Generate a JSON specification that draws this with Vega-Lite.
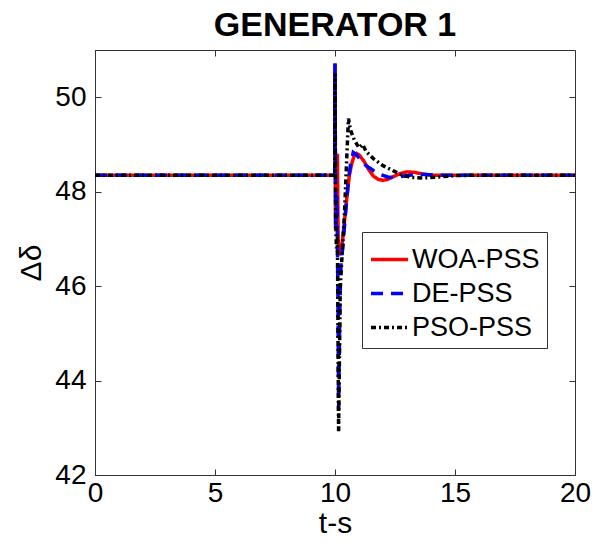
{
  "$schema": "https://vega.github.io/schema/vega-lite/v6.json",
  "width": 480,
  "height": 425,
  "autosize": {"type": "none"},
  "padding": {"left": 95, "top": 50, "right": 25, "bottom": 71},
  "background": "white",
  "title": {"text": "GENERATOR 1", "font": "Liberation Sans", "fontSize": 34, "fontWeight": "bold", "color": "#000000", "offset": 7, "anchor": "middle"},
  "config": {
    "view": {"stroke": "#333333", "strokeWidth": 1},
    "axis": {"grid": false, "labelFont": "Liberation Sans", "titleFont": "Liberation Sans", "labelFontSize": 28, "titleFontSize": 30, "labelColor": "#000000", "titleColor": "#000000", "domainColor": "#333333", "tickColor": "#333333", "titleFontWeight": "normal"}
  },
  "data": {"values": [
    {"s": "WOA-PSS", "t": 0, "v": 48.35}, {"s": "WOA-PSS", "t": 9.99, "v": 48.35}, {"s": "WOA-PSS", "t": 10.0, "v": 50.7}, {"s": "WOA-PSS", "t": 10.02, "v": 47.2}, {"s": "WOA-PSS", "t": 10.06, "v": 47.3}, {"s": "WOA-PSS", "t": 10.1, "v": 48.8}, {"s": "WOA-PSS", "t": 10.13, "v": 47.0}, {"s": "WOA-PSS", "t": 10.2, "v": 46.65}, {"s": "WOA-PSS", "t": 10.3, "v": 46.9}, {"s": "WOA-PSS", "t": 10.4, "v": 47.4}, {"s": "WOA-PSS", "t": 10.5, "v": 47.9}, {"s": "WOA-PSS", "t": 10.6, "v": 48.35}, {"s": "WOA-PSS", "t": 10.7, "v": 48.6}, {"s": "WOA-PSS", "t": 10.8, "v": 48.76}, {"s": "WOA-PSS", "t": 10.9, "v": 48.81}, {"s": "WOA-PSS", "t": 11.0, "v": 48.78}, {"s": "WOA-PSS", "t": 11.2, "v": 48.65}, {"s": "WOA-PSS", "t": 11.4, "v": 48.47}, {"s": "WOA-PSS", "t": 11.6, "v": 48.33}, {"s": "WOA-PSS", "t": 11.8, "v": 48.26}, {"s": "WOA-PSS", "t": 12.0, "v": 48.24}, {"s": "WOA-PSS", "t": 12.2, "v": 48.26}, {"s": "WOA-PSS", "t": 12.4, "v": 48.31}, {"s": "WOA-PSS", "t": 12.7, "v": 48.38}, {"s": "WOA-PSS", "t": 13.0, "v": 48.42}, {"s": "WOA-PSS", "t": 13.3, "v": 48.41}, {"s": "WOA-PSS", "t": 13.6, "v": 48.38}, {"s": "WOA-PSS", "t": 14.0, "v": 48.35}, {"s": "WOA-PSS", "t": 20, "v": 48.35},
    {"s": "DE-PSS", "t": 0, "v": 48.35}, {"s": "DE-PSS", "t": 9.99, "v": 48.35}, {"s": "DE-PSS", "t": 10.0, "v": 50.72}, {"s": "DE-PSS", "t": 10.03, "v": 47.2}, {"s": "DE-PSS", "t": 10.08, "v": 47.9}, {"s": "DE-PSS", "t": 10.12, "v": 46.0}, {"s": "DE-PSS", "t": 10.15, "v": 43.37}, {"s": "DE-PSS", "t": 10.2, "v": 45.5}, {"s": "DE-PSS", "t": 10.25, "v": 46.5}, {"s": "DE-PSS", "t": 10.32, "v": 46.8}, {"s": "DE-PSS", "t": 10.45, "v": 47.6}, {"s": "DE-PSS", "t": 10.55, "v": 48.2}, {"s": "DE-PSS", "t": 10.65, "v": 48.6}, {"s": "DE-PSS", "t": 10.76, "v": 48.83}, {"s": "DE-PSS", "t": 10.9, "v": 48.78}, {"s": "DE-PSS", "t": 11.1, "v": 48.65}, {"s": "DE-PSS", "t": 11.3, "v": 48.55}, {"s": "DE-PSS", "t": 11.6, "v": 48.45}, {"s": "DE-PSS", "t": 11.9, "v": 48.36}, {"s": "DE-PSS", "t": 12.2, "v": 48.31}, {"s": "DE-PSS", "t": 12.5, "v": 48.3}, {"s": "DE-PSS", "t": 12.9, "v": 48.33}, {"s": "DE-PSS", "t": 13.4, "v": 48.37}, {"s": "DE-PSS", "t": 13.9, "v": 48.36}, {"s": "DE-PSS", "t": 14.5, "v": 48.35}, {"s": "DE-PSS", "t": 20, "v": 48.35},
    {"s": "PSO-PSS", "t": 0, "v": 48.35}, {"s": "PSO-PSS", "t": 9.99, "v": 48.35}, {"s": "PSO-PSS", "t": 10.0, "v": 50.5}, {"s": "PSO-PSS", "t": 10.03, "v": 47.4}, {"s": "PSO-PSS", "t": 10.06, "v": 46.8}, {"s": "PSO-PSS", "t": 10.1, "v": 47.1}, {"s": "PSO-PSS", "t": 10.15, "v": 42.92}, {"s": "PSO-PSS", "t": 10.22, "v": 46.0}, {"s": "PSO-PSS", "t": 10.3, "v": 46.7}, {"s": "PSO-PSS", "t": 10.4, "v": 47.6}, {"s": "PSO-PSS", "t": 10.48, "v": 48.6}, {"s": "PSO-PSS", "t": 10.56, "v": 49.55}, {"s": "PSO-PSS", "t": 10.65, "v": 49.3}, {"s": "PSO-PSS", "t": 10.8, "v": 49.1}, {"s": "PSO-PSS", "t": 11.0, "v": 48.93}, {"s": "PSO-PSS", "t": 11.15, "v": 49.0}, {"s": "PSO-PSS", "t": 11.3, "v": 48.85}, {"s": "PSO-PSS", "t": 11.6, "v": 48.7}, {"s": "PSO-PSS", "t": 12.0, "v": 48.55}, {"s": "PSO-PSS", "t": 12.4, "v": 48.45}, {"s": "PSO-PSS", "t": 12.8, "v": 48.35}, {"s": "PSO-PSS", "t": 13.2, "v": 48.3}, {"s": "PSO-PSS", "t": 13.7, "v": 48.29}, {"s": "PSO-PSS", "t": 14.3, "v": 48.31}, {"s": "PSO-PSS", "t": 15, "v": 48.34}, {"s": "PSO-PSS", "t": 16, "v": 48.35}, {"s": "PSO-PSS", "t": 20, "v": 48.35}
  ]},
  "resolve": {"axis": {"x": "independent", "y": "independent"}},
  "layer": [
    {
      "mark": {"type": "line", "strokeCap": "butt", "strokeJoin": "miter", "interpolate": "linear"},
      "encoding": {
        "x": {"field": "t", "type": "quantitative", "scale": {"domain": [0, 20], "nice": false, "zero": false}, "axis": {"title": "t-s", "orient": "bottom", "values": [0, 5, 10, 15, 20], "tickSize": -6, "labelPadding": 10, "titlePadding": 1, "labelFlush": false}},
        "y": {"field": "v", "type": "quantitative", "scale": {"domain": [42, 51], "nice": false, "zero": false}, "axis": {"title": "Δδ", "orient": "left", "values": [42, 44, 46, 48, 50], "tickSize": -6, "labelPadding": 15, "titlePadding": 8}},
        "color": {"field": "s", "type": "nominal", "sort": ["WOA-PSS", "DE-PSS", "PSO-PSS"], "scale": {"domain": ["WOA-PSS", "DE-PSS", "PSO-PSS"], "range": ["#ff0000", "#0000ff", "#000000"]},
          "legend": {"title": null, "orient": "none", "legendX": 267, "legendY": 182, "symbolType": "stroke", "symbolSize": 1369, "symbolStrokeWidth": 3, "labelFont": "Liberation Sans", "labelFontSize": 27, "labelColor": "#000000", "strokeColor": "#333333", "fillColor": "#ffffff", "padding": 7, "rowPadding": -9, "labelOffset": 2, "offset": 0}},
        "strokeDash": {"field": "s", "type": "nominal", "sort": ["WOA-PSS", "DE-PSS", "PSO-PSS"], "scale": {"domain": ["WOA-PSS", "DE-PSS", "PSO-PSS"], "range": [[1, 0], [12, 8], [5, 3, 2, 3]]}, "legend": null},
        "strokeWidth": {"field": "s", "type": "nominal", "scale": {"domain": ["WOA-PSS", "DE-PSS", "PSO-PSS"], "range": [3.5, 3.5, 2]}, "legend": null},
        "detail": {"field": "s"}
      }
    },
    {
      "mark": {"type": "line", "strokeOpacity": 0},
      "encoding": {
        "x": {"field": "t", "type": "quantitative", "axis": {"title": null, "orient": "top", "values": [0, 5, 10, 15, 20], "tickSize": -6, "labels": false, "domain": false}},
        "y": {"field": "v", "type": "quantitative", "axis": {"title": null, "orient": "right", "values": [42, 44, 46, 48, 50], "tickSize": -6, "labels": false, "domain": false}},
        "detail": {"field": "s"}
      }
    }
  ]
}
